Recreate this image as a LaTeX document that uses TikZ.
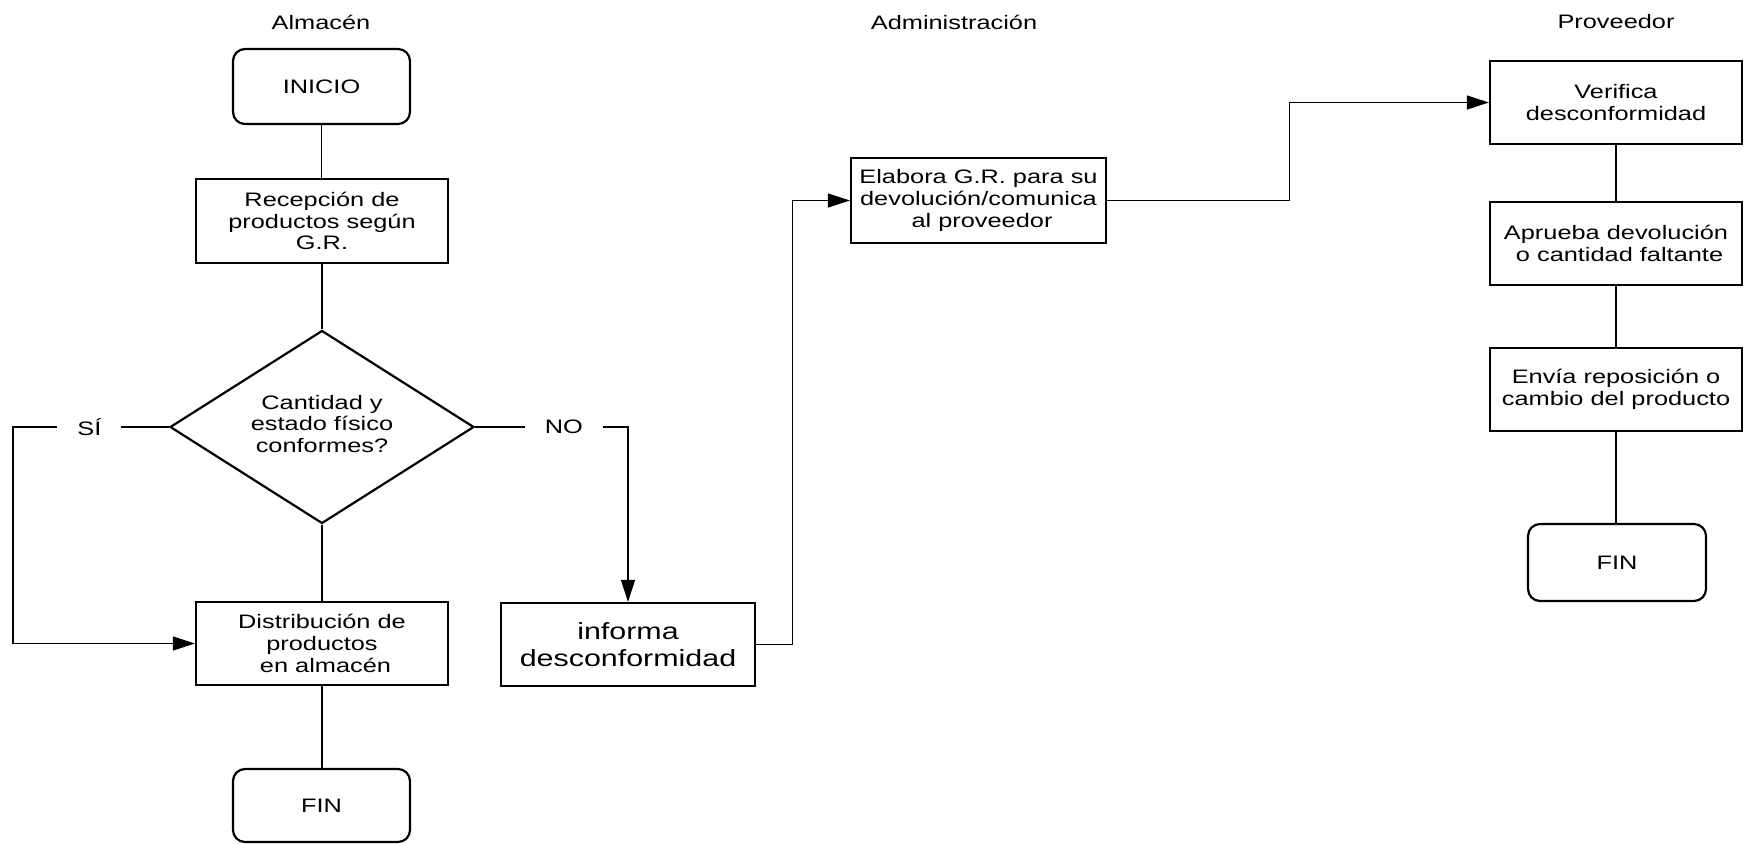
\documentclass[tikz,border=0pt]{standalone}
\usepackage{fontspec}
\setmainfont{Liberation Sans}[FakeStretch=1.3]
\usetikzlibrary{shapes.geometric,arrows.meta}
\newcommand\diagfont{\fontsize{9.75}{10.85}\selectfont}
\newcommand\diagbigfont{\fontsize{11.7}{13.5}\selectfont}
\begin{document}
\begin{tikzpicture}[x=0.5pt,y=-0.5pt,
  title/.style={inner sep=0pt, font=\diagfont},
  proc/.style={draw, line width=1.1pt, inner sep=0pt, align=center, font=\diagfont},
  term/.style={proc, rounded corners=6pt},
  decision/.style={draw, line width=1.1pt, diamond, aspect=1.57, inner sep=0pt,
    minimum width=152pt, minimum height=96.5pt, align=center, font=\diagfont},
  link/.style={line width=0.6pt},
  flow/.style={link, -{Triangle[length=11pt, width=7pt]}},
  lbl/.style={fill=white, inner xsep=10pt, inner ysep=2pt, font=\diagfont}]

\useasboundingbox (0,0) rectangle (1748,844);

% lane titles
\node[title] (tA) at (321,22) {Almacén};
\node[title] (tB) at (954,22) {Administración};
\node[title] (tC) at (1616,22) {Proveedor};

% Almacén lane
\node[term, minimum width=88.5pt, minimum height=37.5pt] (ini) at (321.5,86.5) {INICIO};
\node[proc, minimum width=126pt, minimum height=42pt] (rec) at (322,221) {Recepción de\\productos según\\G.R.};
\node[decision] (dia) at (322,427) {};
\node[font=\diagfont, align=center, inner sep=0pt] (diaText) at (322,424) {Cantidad y\\estado físico\\conformes?};
\node[proc, minimum width=126pt, minimum height=41.5pt] (dist) at (322,643.5) {Distribución de\\productos\\\ en almacén};
\node[term, minimum width=88.5pt, minimum height=36.5pt] (fin1) at (321.5,805.5) {FIN};
\node[proc, minimum width=127pt, minimum height=41.5pt, font=\diagbigfont] (inf) at (628,644.5) {informa\\desconformidad};

% Administración lane
\node[proc, minimum width=127.5pt, minimum height=42.5pt] (elab) at (978.5,200.5) {Elabora G.R. para su\\devolución/comunica\\\ al proveedor};

% Proveedor lane
\node[proc, minimum width=126pt, minimum height=41.5pt] (ver) at (1616,102.5) {Verifica\\desconformidad};
\node[proc, minimum width=126pt, minimum height=41.5pt] (apr) at (1616,243.5) {Aprueba devolución\\\ o cantidad faltante};
\node[proc, minimum width=126pt, minimum height=41.5pt] (env) at (1616,389.5) {Envía reposición o\\cambio del producto};
\node[term, minimum width=89pt, minimum height=38.5pt] (fin2) at (1617,562.5) {FIN};

% plain links
\draw[link] (ini.south) -- (ini.south |- rec.north);
\draw[link] (rec.south) -- (rec.south |- dia.north);
\draw[link] (dia.south) -- (dia.south |- dist.north);
\draw[link] (dist.south) -- (dist.south |- fin1.north);
\draw[link] (ver.south) -- (ver.south |- apr.north);
\draw[link] (apr.south) -- (apr.south |- env.north);
\draw[link] (env.south) -- (env.south |- fin2.north);

% branches of the decision
\coordinate (siTurn) at (13,427);
\coordinate (noTurn) at (628,427);
\draw[flow] (dia.west) -- node[lbl, pos=0.51] {SÍ} (siTurn) |- (dist.west);
\draw[flow] (dia.east) -- node[lbl, pos=0.58] {NO} (noTurn) -- (inf.north);

% hand-offs between lanes
\draw[flow] (inf.east) -- ++(36,0) |- (elab.west);
\draw[flow] (elab.east) -- ++(182,0) |- (ver.west);

\end{tikzpicture}
\end{document}
